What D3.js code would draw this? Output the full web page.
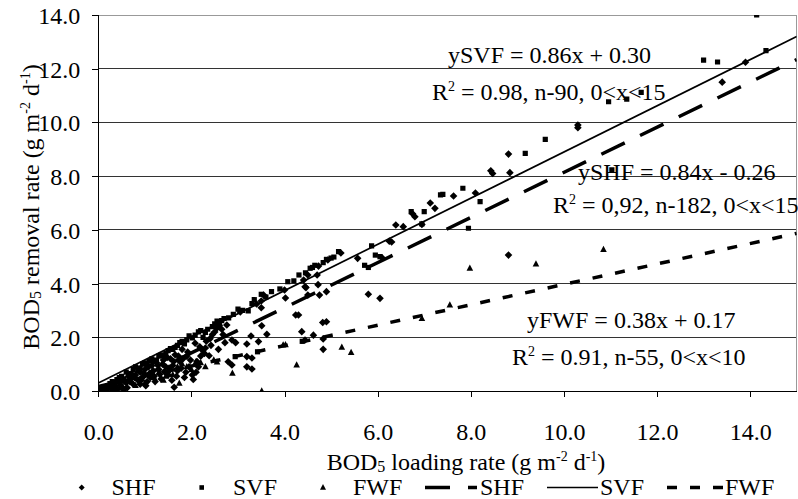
<!DOCTYPE html>
<html>
<head>
<meta charset="utf-8">
<script src="https://cdn.jsdelivr.net/npm/d3@7"></script>
<style>
  body { margin: 0; background: #fff; }
  svg text { font-family: "Liberation Serif", "Times New Roman", serif; fill: #000; }
</style>
</head>
<body>
<div id="chart"></div>
<script>
// SHF (diamonds), [loading, removal]
const shfPoints = [
  [0.02,0.05],[0.08,0.02],[0.12,0.06],[0.18,0.04],[0.22,0.12],[0.3,0.08],[0.35,0.2],[0.4,0.05],
  [0.45,0.3],[0.5,0.15],[0.55,0.06],[0.55,0.4],[0.6,0.3],[0.65,0.55],[0.7,0.45],[0.75,0.25],
  [0.8,0.6],[0.85,0.4],[0.9,0.7],[0.9,0.25],[0.95,0.5],[1.0,0.8],[1.05,0.35],[1.1,0.65],
  [1.15,0.95],[1.2,0.55],[1.25,1.05],[1.3,0.8],[1.35,0.45],[1.4,1.15],[1.45,0.9],[1.5,0.6],
  [1.55,1.2],[1.6,0.95],[1.63,0.14],[1.65,1.35],[1.7,0.75],[1.75,1.1],[1.8,1.55],[1.85,0.5],
  [1.9,1.3],[1.95,0.9],[2.04,0.43],[2.08,1.78],[2.1,0.7],[2.15,0.9],[2.2,1.3],[2.23,1.53],
  [2.3,1.6],[2.38,1.31],[2.4,1.95],[2.5,2.2],[2.55,2.35],[2.6,2.45],[2.65,2.3],[2.76,2.46],
  [2.79,1.09],[2.87,0.97],[2.87,1.9],[2.95,1.8],[3.05,2.94],[3.19,0.9],[3.19,1.75],[3.19,1.28],
  [3.28,2.05],[3.3,0.82],[3.3,1.23],[3.4,3.24],[3.44,1.84],[3.5,3.1],[3.5,3.35],[3.51,2.43],
  [3.55,3.57],[3.62,2.11],[4.0,3.76],[4.02,3.46],[4.24,2.83],[4.3,2.83],[4.37,2.21],[4.41,4.13],
  [4.44,3.88],[4.46,3.85],[4.5,4.32],[4.5,3.57],[4.44,1.9],[4.62,2.08],[4.72,3.96],[4.75,3.57],
  [4.7,4.32],[4.73,4.65],[4.83,1.94],[4.83,1.55],[4.82,2.55],[4.9,2.58],[4.9,3.7],[4.93,4.88],
  [5.21,5.14],[5.57,4.94],[5.8,3.6],[6.05,3.45],[6.1,4.95],[6.25,5.58],[6.3,5.55],[6.39,6.18],
  [6.55,6.12],[6.75,6.6],[6.8,6.49],[6.95,6.2],[7.13,7.0],[7.23,6.8],[7.63,7.26],[8.1,7.37],
  [8.43,8.2],[8.47,8.1],[8.81,8.82],[8.84,8.13],[8.81,5.06],[10.3,9.9],[10.3,9.8],[13.4,11.5],
  [13.9,12.24],
  [0.25,0.22],[0.38,0.12],[0.42,0.38],[0.48,0.22],[0.62,0.12],[0.68,0.35],[0.72,0.62],[0.78,0.5],
  [0.88,0.82],[0.92,0.4],[0.98,0.65],[1.02,0.2],[1.08,0.9],[1.12,0.5],[1.18,0.75],[1.22,0.35],
  [1.28,0.95],[1.32,0.62],[1.38,1.0],[1.42,0.72],[1.48,1.25],[1.52,0.85],[1.58,0.4],[1.62,1.1],
  [1.68,0.55],[1.72,1.3],[1.78,0.85],[1.82,1.2],[1.88,0.7],[1.92,1.45],[1.98,1.15],[2.02,0.6],
  [2.12,1.1],[2.18,1.65],[2.28,1.4],[2.32,1.85],[2.42,1.7],[2.45,2.1],[2.58,1.55],[2.68,2.1],
  [2.72,1.8]
];
// SVF (squares)
const svfPoints = [
  [0.05,0.08],[0.1,0.12],[0.15,0.1],[0.2,0.15],[0.3,0.35],[0.35,0.3],[0.45,0.5],[0.5,0.55],
  [0.55,0.45],[0.6,0.7],[0.7,0.65],[0.75,0.8],[0.8,0.9],[0.85,0.75],[0.95,1.0],[1.0,1.05],
  [1.05,0.95],[1.15,1.2],[1.2,1.1],[1.3,1.3],[1.35,1.35],[1.45,1.4],[1.5,1.5],[1.6,1.55],
  [1.7,1.7],[1.8,1.85],[1.85,1.75],[1.95,2.05],[2.08,2.08],[2.25,2.0],[2.35,2.3],[2.45,2.4],
  [2.5,2.5],[2.6,2.55],[2.65,2.62],[2.8,2.72],[2.94,1.28],[3.0,3.05],[3.22,2.98],[3.42,1.46],
  [3.5,3.6],[3.72,3.7],[4.07,4.07],[4.31,4.32],[4.38,1.85],[4.55,4.57],[4.6,4.6],[4.83,4.78],
  [5.0,4.95],[5.06,4.99],[5.16,5.19],[5.72,4.68],[5.8,4.6],[5.87,5.4],[5.95,5.06],[6.05,5.0],
  [6.72,6.68],[6.95,6.22],[7.0,6.68],[7.35,7.3],[7.4,7.32],[7.83,7.55],[7.95,6.06],[8.2,7.05],
  [9.17,8.85],[9.6,9.37],[10.96,10.77],[11.03,8.23],[11.35,10.87],[11.66,11.12],[13.0,12.32],
  [13.3,12.25],[14.14,14.0],[14.34,12.67],
  [0.25,0.28],[0.4,0.42],[0.65,0.62],[0.9,0.85],[1.1,1.12],[1.25,1.15],[1.4,1.32],[1.55,1.58],
  [1.65,1.62],[1.75,1.8],[1.9,1.9],[2.02,1.98],[2.15,2.2],[2.2,2.25],[2.3,2.18],[2.55,2.6],
  [2.7,2.7],[2.9,2.85],[3.1,3.0],[3.3,3.25],[3.35,3.4],[3.6,3.5],[3.9,3.8],[4.2,4.1],
  [4.45,4.4],[4.65,4.68],[4.9,4.9]
];
// FWF (triangles)
const fwfPoints = [
  [0.3,0.05],[0.5,0.1],[0.8,0.2],[1.0,0.3],[1.2,0.5],[1.4,0.4],[1.5,0.75],[1.6,0.6],
  [1.7,0.9],[1.74,0.29],[1.8,1.0],[2.0,0.8],[2.2,1.05],[2.48,1.15],[2.55,1.08],[2.88,0.66],
  [3.51,0.0],[3.97,1.71],[4.02,1.72],[4.26,0.97],[5.23,1.63],[5.43,1.43],[6.95,2.7],[7.55,3.2],
  [7.98,4.57],[9.4,4.73],[10.85,5.27],
  [1.3,0.7],[1.45,0.55],[1.9,0.9],[2.1,1.1],[2.3,0.9]
];

// linear fits shown on the chart
const fitNames = ["SHF", "SVF", "FWF"];
const fitSlopes = [0.84, 0.86, 0.38];
const fitIntercepts = [-0.26, 0.30, 0.17];

const xTicks = [0, 2, 4, 6, 8, 10, 12, 14];
const yTicks = [0, 2, 4, 6, 8, 10, 12, 14];

const equationLines = [
  { eq: "ySVF = 0.86x + 0.30", r2: " = 0.98, n-90, 0<x<15" },
  { eq: "ySHF = 0.84x - 0.26", r2: " = 0,92, n-182, 0<x<15" },
  { eq: "yFWF = 0.38x + 0.17", r2: " = 0.91, n-55, 0<x<10" }
];

const W = 798, H = 499;
const FS = 24;
const svg = d3.select("#chart").append("svg")
  .attr("width", W).attr("height", H);

const x = d3.scaleLinear().domain([0, 15]).range([98.3, 796.7]);
const y = d3.scaleLinear().domain([0, 14]).range([391, 15]);

svg.append("defs").append("clipPath").attr("id", "plotclip")
  .append("rect")
  .attr("x", x(0)).attr("y", y(14))
  .attr("width", x(15) - x(0)).attr("height", y(0) - y(14));

// gridlines
svg.append("g").selectAll("line")
  .data(yTicks.filter(d => d > 0))
  .join("line")
  .attr("x1", x(0)).attr("x2", x(15))
  .attr("y1", d => y(d)).attr("y2", d => y(d))
  .attr("stroke", d => d === 14 ? "#999" : "#333")
  .attr("stroke-width", 1)
  .attr("shape-rendering", "crispEdges");

// right border
svg.append("line")
  .attr("x1", x(15)).attr("x2", x(15))
  .attr("y1", y(14)).attr("y2", y(0))
  .attr("stroke", "#999").attr("shape-rendering", "crispEdges");

// axes
const yAxis = svg.append("g")
  .attr("transform", `translate(${x(0)},0)`)
  .call(d3.axisLeft(y).tickValues(yTicks).tickFormat(d3.format(".1f")).tickSize(6).tickPadding(12));
const xAxis = svg.append("g")
  .attr("transform", `translate(0,${y(0)})`)
  .call(d3.axisBottom(x).tickValues(xTicks).tickFormat(d3.format(".1f")).tickSize(6));

[yAxis, xAxis].forEach(a => {
  a.select(".domain").attr("stroke", "#000").attr("shape-rendering", "crispEdges");
  a.selectAll(".tick line").attr("stroke", "#000").attr("shape-rendering", "crispEdges");
  a.selectAll("text").attr("font-size", FS).attr("font-family", "Liberation Serif, serif");
});
xAxis.select(".domain").attr("d", `M${x(0)},0H${x(15)}`);
yAxis.select(".domain").attr("d", `M0,${y(0)}V${y(14)}`);
xAxis.selectAll(".tick text").attr("y", 49).attr("dy", 0);
yAxis.selectAll(".tick text").attr("dy", 8.5);

// axis titles
function axisTitle(g, main) {
  const t = g.append("text").attr("font-size", FS).attr("text-anchor", "middle");
  t.append("tspan").text("BOD");
  t.append("tspan").attr("font-size", 16).attr("dy", 2).text("5");
  t.append("tspan").attr("dy", -2).text(" " + main + " (g m");
  t.append("tspan").attr("font-size", 14).attr("dy", -9).text("-2");
  t.append("tspan").attr("dy", 9).text(" d");
  t.append("tspan").attr("font-size", 14).attr("dy", -9).text("-1");
  t.append("tspan").attr("dy", 9).text(")");
  return t;
}
axisTitle(svg.append("g").attr("transform", "translate(466,470)"), "loading rate");
axisTitle(svg.append("g").attr("transform", "translate(39,207) rotate(-90)"), "removal rate");

// trend lines
const fitStyles = [
  { width: 3.5, dash: "26,17" },
  { width: 1.7, dash: null },
  { width: 3.5, dash: "10,13" }
];
const line = d3.line().x(d => x(d[0])).y(d => y(d[1]));
const plot = svg.append("g").attr("clip-path", "url(#plotclip)");

// markers
const diamond = { draw(ctx, s) { const r = s; ctx.moveTo(0, -r); ctx.lineTo(r, 0); ctx.lineTo(0, r); ctx.lineTo(-r, 0); ctx.closePath(); } };
const square = { draw(ctx, s) { ctx.rect(-s, -s, 2 * s, 2 * s); } };
const triangle = { draw(ctx, s) { ctx.moveTo(0, -s * 1.15); ctx.lineTo(s, s * 0.75); ctx.lineTo(-s, s * 0.75); ctx.closePath(); } };
const symbolPath = (type, s) => { const p = d3.path(); type.draw(p, s); return p.toString(); };

const series = [
  { data: shfPoints, shape: diamond, size: 3.8 },
  { data: svfPoints, shape: square, size: 2.6 },
  { data: fwfPoints, shape: triangle, size: 3.3 }
];
series.forEach(s => {
  plot.append("g").selectAll("path")
    .data(s.data)
    .join("path")
    .attr("transform", d => `translate(${x(d[0])},${y(d[1])})`)
    .attr("d", symbolPath(s.shape, s.size))
    .attr("fill", "#000");
});

fitNames.forEach((n, i) => {
  const pts = [[0, fitIntercepts[i]], [15, fitSlopes[i] * 15 + fitIntercepts[i]]];
  plot.append("path")
    .datum(pts)
    .attr("d", line)
    .attr("fill", "none")
    .attr("stroke", "#000")
    .attr("stroke-width", fitStyles[i].width)
    .attr("stroke-dasharray", fitStyles[i].dash);
});

// equation labels
const eqPos = [
  { x1: 448, y1: 62.5, x2: 432, y2: 100 },
  { x1: 578, y1: 180, x2: 553, y2: 213 },
  { x1: 527, y1: 328, x2: 512, y2: 365 }
];
equationLines.forEach((e, i) => {
  const p = eqPos[i];
  svg.append("text").attr("x", p.x1).attr("y", p.y1).attr("font-size", FS).text(e.eq);
  const t = svg.append("text").attr("x", p.x2).attr("y", p.y2).attr("font-size", FS);
  t.append("tspan").text("R");
  t.append("tspan").attr("font-size", 14).attr("dy", -9).text("2");
  t.append("tspan").attr("dy", 9).text(e.r2);
});

// legend
const legY = 495, legMid = 487.5;
const lg = svg.append("g");
const markerLegend = [
  { shape: diamond, size: 3, mx: 81.7, tx: 111.5, label: "SHF" },
  { shape: square, size: 2.3, mx: 201.7, tx: 233, label: "SVF" },
  { shape: triangle, size: 3, mx: 323, tx: 353, label: "FWF" }
];
markerLegend.forEach(m => {
  lg.append("path").attr("transform", `translate(${m.mx},${legMid})`)
    .attr("d", symbolPath(m.shape, m.size)).attr("fill", "#000");
  lg.append("text").attr("x", m.tx).attr("y", legY).attr("font-size", FS).text(m.label);
});
const lineLegend = [
  { x1: 425, x2: 477, tx: 480, i: 0 },
  { x1: 547, x2: 598, tx: 600, i: 1 },
  { x1: 667, x2: 723, tx: 725, i: 2 }
];
lineLegend.forEach(l => {
  const st = fitStyles[l.i];
  lg.append("line").attr("x1", l.x1).attr("x2", l.x2).attr("y1", legMid).attr("y2", legMid)
    .attr("stroke", "#000").attr("stroke-width", st.width)
    .attr("stroke-dasharray", l.i === 0 ? "25,18" : st.dash);
  lg.append("text").attr("x", l.tx).attr("y", legY).attr("font-size", FS).text(fitNames[l.i]);
});
</script>
</body>
</html>
